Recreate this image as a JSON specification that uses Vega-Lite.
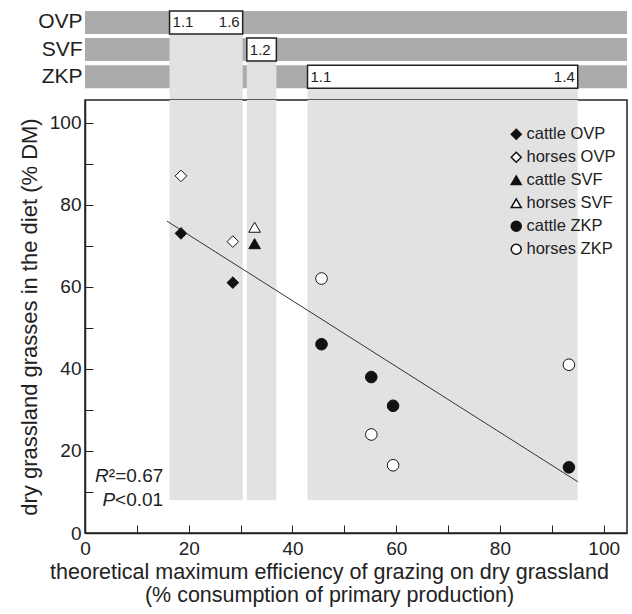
{
  "$schema": "https://vega.github.io/schema/vega-lite/v6.json",
  "padding": {"left": 17, "top": 10, "right": 5, "bottom": 5},
  "spacing": 0,
  "resolve": {"legend": {"shape": "independent", "fill": "independent"}},
  "config": {
    "font": "Liberation Sans",
    "view": {"stroke": "#222", "strokeWidth": 1.5},
    "axis": {"labelFont": "Liberation Sans", "titleFont": "Liberation Sans", "labelColor": "#222", "titleColor": "#222", "titleFontWeight": "normal", "grid": false, "domainColor": "#222", "tickColor": "#222"},
    "legend": {"labelFont": "Liberation Sans"}
  },
  "datasets": {
    "rows": [{"row": "OVP"}, {"row": "SVF"}, {"row": "ZKP"}],
    "ranges": [
      {"row": "OVP", "lo": 16.3, "hi": 30.4, "lab_lo": "1.1", "lab_hi": "1.6", "base": 8},
      {"row": "SVF", "lo": 31.2, "hi": 36.9, "lab_lo": "1.2", "lab_hi": "", "base": 8},
      {"row": "ZKP", "lo": 42.9, "hi": 95, "lab_lo": "1.1", "lab_hi": "1.4", "base": 8}
    ],
    "points": [
      {"group": "cattle OVP", "x": 18.5, "y": 73},
      {"group": "cattle OVP", "x": 28.5, "y": 61},
      {"group": "horses OVP", "x": 18.5, "y": 87},
      {"group": "horses OVP", "x": 28.5, "y": 71},
      {"group": "cattle SVF", "x": 32.7, "y": 70.5},
      {"group": "horses SVF", "x": 32.7, "y": 74.5},
      {"group": "cattle ZKP", "x": 45.6, "y": 46},
      {"group": "cattle ZKP", "x": 55.2, "y": 38},
      {"group": "cattle ZKP", "x": 59.4, "y": 31},
      {"group": "cattle ZKP", "x": 93.3, "y": 16},
      {"group": "horses ZKP", "x": 45.6, "y": 62},
      {"group": "horses ZKP", "x": 55.2, "y": 24},
      {"group": "horses ZKP", "x": 59.4, "y": 16.5},
      {"group": "horses ZKP", "x": 93.3, "y": 41}
    ],
    "fit": [{"x": 15.8, "y": 76}, {"x": 95, "y": 12.5}],
    "stats": [{"x": 4.6, "y": 13.9, "a": "R", "b": "²=0.67"}, {"x": 5.8, "y": 8, "a": "P", "b": "<0.01"}]
  },
  "vconcat": [
    {
      "width": 542,
      "height": 88,
      "view": {"stroke": null},
      "layer": [
        {
          "data": {"name": "rows"},
          "mark": {"type": "rect", "color": "#ababab"},
          "encoding": {
            "y": {"field": "row", "type": "nominal", "scale": {"domain": ["OVP", "SVF", "ZKP"], "paddingInner": 0.151, "paddingOuter": 0.2, "align": 0}, "axis": {"title": null, "ticks": false, "domain": false, "labelFontSize": 21, "labelPadding": 3, "labelColor": "#222"}},
            "x": {"value": 0},
            "x2": {"value": "width"}
          }
        },
        {
          "data": {"name": "ranges"},
          "mark": {"type": "rect", "color": "#e2e2e2"},
          "encoding": {
            "x": {"field": "lo", "type": "quantitative", "scale": {"domain": [0, 104.5], "nice": false, "zero": false}, "axis": null},
            "x2": {"field": "hi"},
            "y": {"field": "row", "type": "nominal", "bandPosition": 0},
            "y2": {"value": "height"}
          }
        },
        {
          "data": {"name": "ranges"},
          "mark": {"type": "rect", "fill": "white", "stroke": "#222", "strokeWidth": 1.5},
          "encoding": {
            "x": {"field": "lo", "type": "quantitative"},
            "x2": {"field": "hi"},
            "y": {"field": "row", "type": "nominal"}
          }
        },
        {
          "data": {"name": "ranges"},
          "mark": {"type": "text", "align": "left", "dx": 3, "fontSize": 15, "color": "#222"},
          "encoding": {
            "x": {"field": "lo", "type": "quantitative"},
            "y": {"field": "row", "type": "nominal"},
            "text": {"field": "lab_lo"}
          }
        },
        {
          "data": {"name": "ranges"},
          "mark": {"type": "text", "align": "right", "dx": -3, "fontSize": 15, "color": "#222"},
          "encoding": {
            "x": {"field": "hi", "type": "quantitative"},
            "y": {"field": "row", "type": "nominal"},
            "text": {"field": "lab_hi"}
          }
        }
      ]
    },
    {
      "width": 542,
      "height": 433,
      "layer": [
        {
          "data": {"name": "ranges"},
          "mark": {"type": "rect", "color": "#e2e2e2"},
          "encoding": {
            "x": {"field": "lo", "type": "quantitative", "scale": {"domain": [0, 104.5], "nice": false, "zero": false},
              "axis": {"title": ["theoretical maximum efficiency of grazing on dry grassland", "(% consumption of primary production)"], "values": [0, 10, 20, 30, 40, 50, 60, 70, 80, 90, 100], "labelExpr": "datum.value % 20 === 0 ? datum.label : ''", "tickSize": -8, "labelPadding": 14, "domainWidth": 1.5, "tickWidth": 1, "labelFontSize": 19, "titleFontSize": 21.5, "titleLineHeight": 23, "titlePadding": 3, "titleX": 244, "labelFlush": false}},
            "x2": {"field": "hi"},
            "y": {"field": "base", "type": "quantitative", "scale": {"domain": [0, 105.5], "nice": false},
              "axis": {"title": "dry grassland grasses in the diet (% DM)", "values": [0, 10, 20, 30, 40, 50, 60, 70, 80, 90, 100], "labelExpr": "datum.value % 20 === 0 ? datum.label : ''", "tickSize": -8, "labelPadding": 12, "domainWidth": 1.5, "tickWidth": 1, "labelFontSize": 19, "titleFontSize": 22, "titlePadding": 8, "labelFlush": false}},
            "y2": {"value": 0}
          }
        },
        {
          "data": {"name": "fit"},
          "mark": {"type": "line", "color": "#333", "strokeWidth": 1},
          "encoding": {
            "x": {"field": "x", "type": "quantitative"},
            "y": {"field": "y", "type": "quantitative"}
          }
        },
        {
          "data": {"name": "points"},
          "mark": {"type": "point", "filled": true, "stroke": "#111", "strokeWidth": 1, "opacity": 1, "size": 135},
          "encoding": {
            "x": {"field": "x", "type": "quantitative"},
            "y": {"field": "y", "type": "quantitative"},
            "shape": {"field": "group", "type": "nominal", "scale": {"domain": ["cattle OVP", "horses OVP", "cattle SVF", "horses SVF", "cattle ZKP", "horses ZKP"], "range": ["diamond", "diamond", "triangle-up", "triangle-up", "circle", "circle"]},
              "legend": {"title": null, "orient": "none", "legendX": 423, "legendY": 26, "labelFontSize": 16.5, "labelColor": "#222", "symbolSize": 100, "rowPadding": 6, "labelOffset": 2, "encode": {"symbols": {"update": {"stroke": {"value": "#111"}, "strokeWidth": {"value": 1}, "opacity": {"value": 1}}}}}},
            "fill": {"field": "group", "type": "nominal", "scale": {"domain": ["cattle OVP", "horses OVP", "cattle SVF", "horses SVF", "cattle ZKP", "horses ZKP"], "range": ["#111", "white", "#111", "white", "#111", "white"]},
              "legend": {"title": null, "orient": "none", "legendX": 423, "legendY": 26, "labelFontSize": 16.5, "labelColor": "#222", "symbolSize": 100, "rowPadding": 6, "labelOffset": 2, "encode": {"symbols": {"update": {"stroke": {"value": "#111"}, "strokeWidth": {"value": 1}, "opacity": {"value": 1}}}}}}
          }
        },
        {
          "data": {"name": "stats"},
          "mark": {"type": "text", "align": "right", "fontSize": 19, "fontStyle": "italic", "color": "#222"},
          "encoding": {
            "x": {"field": "x", "type": "quantitative"},
            "y": {"field": "y", "type": "quantitative"},
            "text": {"field": "a"}
          }
        },
        {
          "data": {"name": "stats"},
          "mark": {"type": "text", "align": "left", "fontSize": 19, "color": "#222"},
          "encoding": {
            "x": {"field": "x", "type": "quantitative"},
            "y": {"field": "y", "type": "quantitative"},
            "text": {"field": "b"}
          }
        }
      ]
    }
  ]
}
